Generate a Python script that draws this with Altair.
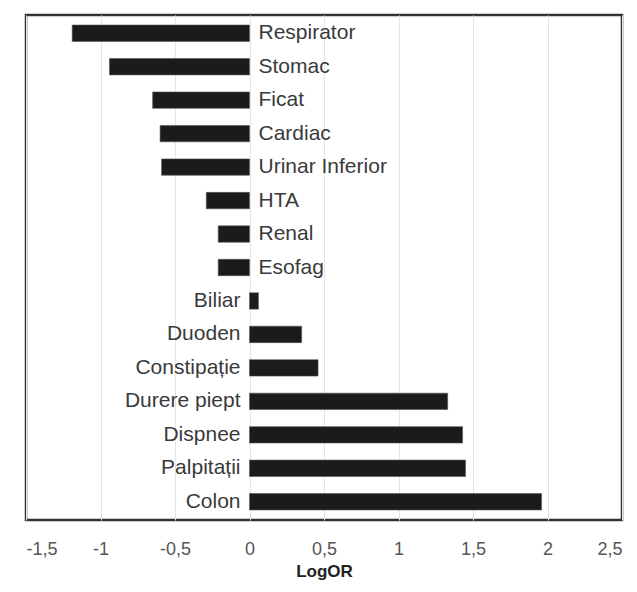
import altair as alt
import pandas as pd

categories = ["Respirator", "Stomac", "Ficat", "Cardiac", "Urinar Inferior", "HTA", "Renal",
              "Esofag", "Biliar", "Duoden", "Constipație", "Durere piept", "Dispnee",
              "Palpitații", "Colon"]
values = [-1.19, -0.94, -0.65, -0.60, -0.59, -0.29, -0.21, -0.21, 0.06, 0.35, 0.46,
          1.33, 1.43, 1.45, 1.96]
tick_values = [-1.5, -1, -0.5, 0, 0.5, 1, 1.5, 2, 2.5]

df = pd.DataFrame({"cat": categories, "val": values})

FONT = "Liberation Sans"

y_enc = alt.Y("cat:N", sort=categories, axis=None,
              scale=alt.Scale(paddingInner=0.51, paddingOuter=0.3))
x_scale = alt.Scale(domain=[-1.5, 2.5], nice=False, zero=False)

bars = alt.Chart(df).mark_bar(color="#1b1b1b", stroke="#555555", strokeWidth=0.6).encode(
    x=alt.X("val:Q", scale=x_scale,
            axis=alt.Axis(values=tick_values, grid=True, gridColor="#e4e4e4", domain=False,
                          ticks=False, tickSize=0, labelPadding=20,
                          labelExpr="(datum.value < 0 ? '-' : '') + replace(toString(abs(datum.value)), '.', ',')",
                          labelFont=FONT, labelFontSize=18, labelColor="#555555",
                          title="LogOR", titleFont=FONT, titleFontSize=17, titleFontWeight="bold",
                          titleColor="#222222", titlePadding=5)),
    x2=alt.datum(0),
    y=y_enc,
)

neg_labels = alt.Chart(df).transform_filter("datum.val < 0").mark_text(
    align="left", baseline="middle", dx=9, font=FONT, fontSize=21, color="#3a3a3a"
).encode(x=alt.datum(0), y=y_enc, text="cat:N")

pos_labels = alt.Chart(df).transform_filter("datum.val >= 0").mark_text(
    align="right", baseline="middle", dx=-9, font=FONT, fontSize=21, color="#3a3a3a"
).encode(x=alt.datum(0), y=y_enc, text="cat:N")

chart = alt.layer(bars, neg_labels, pos_labels).properties(
    width=596, height=505,
    background="white",
    autosize=alt.AutoSizeParams(type="none"),
    padding={"left": 18, "top": 7, "right": 7, "bottom": 63},
).configure_view(stroke="#333333", strokeWidth=2.5)

chart.save("out.html", embed_options={"renderer": "svg", "actions": False})
